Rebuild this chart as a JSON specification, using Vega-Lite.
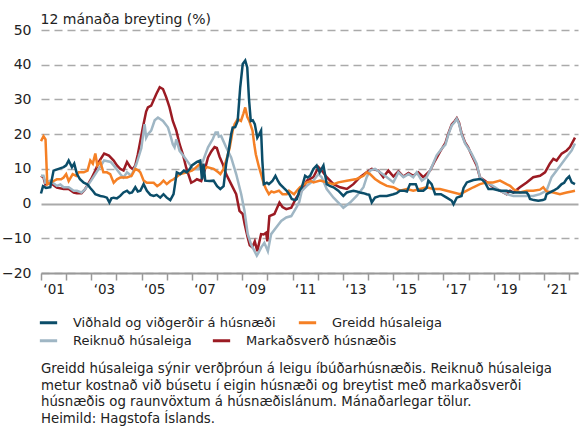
{
  "$schema": "https://vega.github.io/schema/vega-lite/v6.json",
  "autosize": {"type": "none"},
  "width": 537,
  "height": 243,
  "padding": {"left": 41, "top": 30, "right": 2, "bottom": 170},
  "background": "white",
  "config": {
    "font": "DejaVu Sans",
    "view": {"stroke": null},
    "axis": {"labelFont": "DejaVu Sans", "titleFont": "DejaVu Sans", "labelColor": "#222", "titleColor": "#222"},
    "legend": {"labelFont": "DejaVu Sans"},
    "title": {"font": "DejaVu Sans"}
  },
  "title": {
    "text": ["Greidd húsaleiga sýnir verðþróun á leigu íbúðarhúsnæðis. Reiknuð húsaleiga", "metur kostnað við búsetu í eigin húsnæði og breytist með markaðsverði", "húsnæðis og raunvöxtum á húsnæðislánum. Mánaðarlegar tölur.", "Heimild: Hagstofa Íslands."],
    "orient": "bottom",
    "anchor": "start",
    "frame": "group",
    "fontSize": 13.3,
    "fontWeight": "normal",
    "lineHeight": 16.7,
    "color": "#222",
    "offset": 14
  },
  "datasets": {
    "A": [
      {"t":2001.00,"v":2.9},{"t":2001.08,"v":5.0},{"t":2001.20,"v":4.5},{"t":2001.37,"v":4.7},{"t":2001.50,"v":9.5},{"t":2001.70,"v":10.0},{"t":2001.90,"v":10.5},{"t":2002.00,"v":11.0},{"t":2002.10,"v":12.4},{"t":2002.23,"v":10.5},{"t":2002.32,"v":11.5},{"t":2002.43,"v":8.5},{"t":2002.55,"v":7.0},{"t":2002.70,"v":6.0},{"t":2002.85,"v":5.5},{"t":2002.96,"v":4.5},{"t":2003.08,"v":3.5},{"t":2003.16,"v":2.7},{"t":2003.36,"v":2.2},{"t":2003.50,"v":2.0},{"t":2003.62,"v":1.7},{"t":2003.72,"v":0.3},{"t":2003.80,"v":1.5},{"t":2003.89,"v":1.7},{"t":2004.02,"v":1.5},{"t":2004.15,"v":2.2},{"t":2004.28,"v":3.2},{"t":2004.42,"v":3.7},{"t":2004.52,"v":3.0},{"t":2004.62,"v":3.2},{"t":2004.75,"v":4.7},{"t":2004.85,"v":3.5},{"t":2004.95,"v":3.7},{"t":2005.08,"v":5.6},{"t":2005.21,"v":3.7},{"t":2005.35,"v":2.5},{"t":2005.48,"v":2.2},{"t":2005.60,"v":2.5},{"t":2005.74,"v":1.7},{"t":2005.87,"v":2.7},{"t":2006.00,"v":1.7},{"t":2006.14,"v":1.0},{"t":2006.27,"v":2.7},{"t":2006.40,"v":9.0},{"t":2006.54,"v":8.5},{"t":2006.68,"v":9.5},{"t":2006.80,"v":9.0},{"t":2006.92,"v":10.0},{"t":2007.00,"v":11.0},{"t":2007.20,"v":12.0},{"t":2007.33,"v":12.4},{"t":2007.40,"v":7.0},{"t":2007.46,"v":11.5},{"t":2007.53,"v":6.6},{"t":2007.70,"v":6.5},{"t":2007.86,"v":6.6},{"t":2008.00,"v":5.0},{"t":2008.13,"v":4.2},{"t":2008.26,"v":5.0},{"t":2008.36,"v":11.3},{"t":2008.46,"v":15.3},{"t":2008.56,"v":20.0},{"t":2008.62,"v":21.9},{"t":2008.72,"v":22.0},{"t":2008.82,"v":23.8},{"t":2008.92,"v":33.5},{"t":2009.02,"v":40.2},{"t":2009.12,"v":41.2},{"t":2009.20,"v":39.2},{"t":2009.27,"v":30.0},{"t":2009.34,"v":23.8},{"t":2009.42,"v":24.0},{"t":2009.50,"v":22.9},{"t":2009.60,"v":19.0},{"t":2009.68,"v":20.0},{"t":2009.75,"v":21.0},{"t":2009.80,"v":12.3},{"t":2009.86,"v":5.6},{"t":2009.98,"v":6.0},{"t":2010.06,"v":5.6},{"t":2010.20,"v":6.5},{"t":2010.32,"v":8.0},{"t":2010.42,"v":6.5},{"t":2010.50,"v":5.6},{"t":2010.65,"v":4.5},{"t":2010.77,"v":3.7},{"t":2010.87,"v":2.7},{"t":2010.97,"v":1.3},{"t":2011.10,"v":1.0},{"t":2011.17,"v":1.3},{"t":2011.27,"v":3.7},{"t":2011.37,"v":4.7},{"t":2011.50,"v":8.0},{"t":2011.60,"v":7.5},{"t":2011.70,"v":8.0},{"t":2011.83,"v":10.0},{"t":2011.96,"v":11.0},{"t":2012.08,"v":9.0},{"t":2012.23,"v":11.0},{"t":2012.36,"v":5.6},{"t":2012.50,"v":5.0},{"t":2012.63,"v":4.7},{"t":2012.82,"v":3.7},{"t":2013.02,"v":2.2},{"t":2013.16,"v":3.2},{"t":2013.30,"v":3.5},{"t":2013.42,"v":3.7},{"t":2013.55,"v":3.5},{"t":2013.68,"v":3.2},{"t":2013.82,"v":3.0},{"t":2013.95,"v":2.7},{"t":2014.05,"v":2.5},{"t":2014.15,"v":0.3},{"t":2014.28,"v":1.7},{"t":2014.48,"v":2.2},{"t":2014.75,"v":2.2},{"t":2015.01,"v":2.7},{"t":2015.14,"v":3.0},{"t":2015.27,"v":3.7},{"t":2015.45,"v":3.7},{"t":2015.55,"v":3.5},{"t":2015.67,"v":5.6},{"t":2015.90,"v":5.6},{"t":2016.00,"v":3.7},{"t":2016.20,"v":3.7},{"t":2016.33,"v":4.5},{"t":2016.40,"v":6.6},{"t":2016.53,"v":5.6},{"t":2016.67,"v":2.7},{"t":2016.90,"v":2.7},{"t":2017.13,"v":1.7},{"t":2017.33,"v":0.8},{"t":2017.40,"v":-0.2},{"t":2017.53,"v":1.7},{"t":2017.72,"v":2.2},{"t":2017.80,"v":4.5},{"t":2017.93,"v":6.1},{"t":2018.19,"v":6.8},{"t":2018.45,"v":7.1},{"t":2018.55,"v":6.8},{"t":2018.65,"v":6.1},{"t":2018.79,"v":4.2},{"t":2018.98,"v":4.2},{"t":2019.25,"v":3.7},{"t":2019.51,"v":3.7},{"t":2019.78,"v":3.2},{"t":2020.04,"v":3.2},{"t":2020.31,"v":3.2},{"t":2020.38,"v":2.5},{"t":2020.44,"v":1.3},{"t":2020.60,"v":1.0},{"t":2020.77,"v":0.8},{"t":2020.95,"v":1.0},{"t":2021.04,"v":1.3},{"t":2021.10,"v":2.7},{"t":2021.37,"v":3.7},{"t":2021.55,"v":4.5},{"t":2021.70,"v":5.6},{"t":2021.80,"v":6.0},{"t":2021.90,"v":7.1},{"t":2022.00,"v":7.8},{"t":2022.10,"v":6.1},{"t":2022.23,"v":5.6}
    ],
    "B": [
      {"t":2001.00,"v":18.0},{"t":2001.10,"v":19.4},{"t":2001.18,"v":18.5},{"t":2001.25,"v":5.5},{"t":2001.37,"v":6.0},{"t":2001.50,"v":6.5},{"t":2001.63,"v":7.0},{"t":2001.80,"v":7.0},{"t":2001.90,"v":7.5},{"t":2002.00,"v":8.5},{"t":2002.10,"v":6.5},{"t":2002.26,"v":8.5},{"t":2002.40,"v":8.0},{"t":2002.50,"v":9.0},{"t":2002.70,"v":9.0},{"t":2002.85,"v":9.5},{"t":2002.96,"v":12.4},{"t":2003.06,"v":11.5},{"t":2003.16,"v":14.4},{"t":2003.24,"v":11.0},{"t":2003.36,"v":12.0},{"t":2003.48,"v":9.0},{"t":2003.62,"v":9.0},{"t":2003.75,"v":8.5},{"t":2003.89,"v":6.0},{"t":2004.02,"v":7.0},{"t":2004.15,"v":7.5},{"t":2004.30,"v":7.5},{"t":2004.42,"v":7.5},{"t":2004.60,"v":8.0},{"t":2004.75,"v":10.0},{"t":2004.88,"v":9.5},{"t":2004.95,"v":9.0},{"t":2005.08,"v":6.6},{"t":2005.21,"v":6.0},{"t":2005.48,"v":6.0},{"t":2005.62,"v":5.0},{"t":2005.74,"v":5.6},{"t":2005.87,"v":6.6},{"t":2006.00,"v":5.6},{"t":2006.14,"v":6.5},{"t":2006.27,"v":7.0},{"t":2006.54,"v":8.5},{"t":2006.80,"v":9.0},{"t":2007.00,"v":9.5},{"t":2007.10,"v":10.0},{"t":2007.33,"v":11.5},{"t":2007.50,"v":10.0},{"t":2007.60,"v":10.5},{"t":2007.86,"v":10.0},{"t":2008.05,"v":9.0},{"t":2008.13,"v":8.5},{"t":2008.26,"v":10.0},{"t":2008.40,"v":13.4},{"t":2008.50,"v":16.0},{"t":2008.62,"v":21.0},{"t":2008.70,"v":22.9},{"t":2008.82,"v":24.3},{"t":2008.95,"v":23.8},{"t":2009.05,"v":26.0},{"t":2009.12,"v":27.7},{"t":2009.20,"v":25.0},{"t":2009.28,"v":23.8},{"t":2009.41,"v":21.0},{"t":2009.48,"v":17.0},{"t":2009.54,"v":14.2},{"t":2009.67,"v":10.4},{"t":2009.77,"v":8.0},{"t":2009.86,"v":5.6},{"t":2009.96,"v":4.0},{"t":2010.06,"v":2.7},{"t":2010.16,"v":3.5},{"t":2010.26,"v":3.2},{"t":2010.46,"v":3.7},{"t":2010.60,"v":2.7},{"t":2010.77,"v":2.7},{"t":2010.86,"v":3.7},{"t":2011.06,"v":2.7},{"t":2011.17,"v":3.7},{"t":2011.30,"v":4.7},{"t":2011.45,"v":5.5},{"t":2011.57,"v":6.1},{"t":2011.73,"v":6.5},{"t":2011.83,"v":6.1},{"t":2012.10,"v":6.6},{"t":2012.36,"v":6.1},{"t":2012.63,"v":5.6},{"t":2012.82,"v":6.1},{"t":2013.16,"v":6.6},{"t":2013.55,"v":7.1},{"t":2013.82,"v":8.0},{"t":2013.95,"v":9.0},{"t":2014.08,"v":8.5},{"t":2014.28,"v":7.1},{"t":2014.48,"v":6.1},{"t":2014.75,"v":5.1},{"t":2015.01,"v":4.7},{"t":2015.27,"v":3.7},{"t":2015.54,"v":4.2},{"t":2015.80,"v":3.7},{"t":2016.07,"v":4.2},{"t":2016.33,"v":4.7},{"t":2016.60,"v":4.2},{"t":2016.86,"v":4.2},{"t":2017.13,"v":3.7},{"t":2017.40,"v":3.2},{"t":2017.66,"v":2.7},{"t":2017.93,"v":3.7},{"t":2018.19,"v":4.7},{"t":2018.45,"v":5.6},{"t":2018.72,"v":6.1},{"t":2018.98,"v":6.1},{"t":2019.25,"v":6.6},{"t":2019.51,"v":5.6},{"t":2019.65,"v":5.1},{"t":2019.78,"v":4.2},{"t":2020.04,"v":3.2},{"t":2020.31,"v":3.7},{"t":2020.57,"v":3.7},{"t":2020.84,"v":4.0},{"t":2020.97,"v":4.7},{"t":2021.10,"v":3.5},{"t":2021.37,"v":3.2},{"t":2021.63,"v":2.7},{"t":2021.90,"v":3.2},{"t":2022.10,"v":3.5},{"t":2022.23,"v":3.7}
    ],
    "C": [
      {"t":2001.00,"v":8.0},{"t":2001.10,"v":8.0},{"t":2001.17,"v":6.0},{"t":2001.37,"v":6.6},{"t":2001.63,"v":5.1},{"t":2001.77,"v":5.5},{"t":2001.90,"v":4.7},{"t":2002.10,"v":4.7},{"t":2002.30,"v":3.7},{"t":2002.43,"v":3.7},{"t":2002.61,"v":3.2},{"t":2002.74,"v":4.0},{"t":2002.99,"v":6.6},{"t":2003.16,"v":8.5},{"t":2003.25,"v":9.5},{"t":2003.51,"v":12.4},{"t":2003.77,"v":12.0},{"t":2003.89,"v":11.0},{"t":2004.15,"v":8.5},{"t":2004.28,"v":7.5},{"t":2004.42,"v":9.0},{"t":2004.59,"v":8.0},{"t":2004.79,"v":11.3},{"t":2004.99,"v":16.0},{"t":2005.12,"v":22.9},{"t":2005.18,"v":19.0},{"t":2005.25,"v":20.0},{"t":2005.38,"v":21.0},{"t":2005.52,"v":24.0},{"t":2005.65,"v":24.8},{"t":2005.85,"v":23.8},{"t":2006.05,"v":21.9},{"t":2006.17,"v":19.0},{"t":2006.24,"v":17.1},{"t":2006.31,"v":16.2},{"t":2006.38,"v":18.5},{"t":2006.51,"v":15.2},{"t":2006.71,"v":13.3},{"t":2006.91,"v":11.3},{"t":2007.04,"v":9.9},{"t":2007.24,"v":9.9},{"t":2007.44,"v":12.3},{"t":2007.64,"v":16.2},{"t":2007.83,"v":18.6},{"t":2007.94,"v":20.5},{"t":2008.03,"v":20.5},{"t":2008.07,"v":19.3},{"t":2008.16,"v":19.5},{"t":2008.36,"v":16.2},{"t":2008.56,"v":13.3},{"t":2008.76,"v":8.5},{"t":2008.96,"v":2.7},{"t":2009.09,"v":-2.1},{"t":2009.22,"v":-8.8},{"t":2009.35,"v":-11.7},{"t":2009.49,"v":-13.7},{"t":2009.58,"v":-15.0},{"t":2009.66,"v":-14.0},{"t":2009.75,"v":-12.7},{"t":2009.88,"v":-11.3},{"t":2010.02,"v":-13.7},{"t":2010.15,"v":-8.8},{"t":2010.35,"v":-6.9},{"t":2010.55,"v":-5.0},{"t":2010.75,"v":-4.0},{"t":2010.95,"v":-3.6},{"t":2011.15,"v":-1.2},{"t":2011.27,"v":0.5},{"t":2011.37,"v":3.7},{"t":2011.57,"v":5.1},{"t":2011.83,"v":6.6},{"t":2012.03,"v":8.5},{"t":2012.16,"v":7.6},{"t":2012.36,"v":4.2},{"t":2012.63,"v":1.7},{"t":2012.89,"v":-0.2},{"t":2013.02,"v":-1.2},{"t":2013.29,"v":0.3},{"t":2013.55,"v":2.2},{"t":2013.82,"v":4.7},{"t":2013.95,"v":7.6},{"t":2014.08,"v":9.5},{"t":2014.28,"v":10.0},{"t":2014.48,"v":9.0},{"t":2014.75,"v":7.6},{"t":2015.01,"v":6.1},{"t":2015.21,"v":9.0},{"t":2015.41,"v":7.6},{"t":2015.61,"v":8.5},{"t":2015.80,"v":7.6},{"t":2015.94,"v":9.0},{"t":2016.14,"v":6.6},{"t":2016.33,"v":7.6},{"t":2016.53,"v":10.5},{"t":2016.73,"v":13.9},{"t":2016.93,"v":15.8},{"t":2017.08,"v":17.0},{"t":2017.20,"v":20.0},{"t":2017.33,"v":22.5},{"t":2017.45,"v":23.5},{"t":2017.53,"v":24.4},{"t":2017.62,"v":23.0},{"t":2017.72,"v":20.0},{"t":2017.86,"v":17.3},{"t":2017.98,"v":16.0},{"t":2018.12,"v":14.4},{"t":2018.32,"v":11.5},{"t":2018.45,"v":7.6},{"t":2018.65,"v":6.1},{"t":2018.85,"v":5.6},{"t":2019.05,"v":4.7},{"t":2019.25,"v":3.7},{"t":2019.51,"v":2.7},{"t":2019.78,"v":2.2},{"t":2020.04,"v":2.2},{"t":2020.31,"v":2.2},{"t":2020.57,"v":2.2},{"t":2020.84,"v":2.7},{"t":2021.10,"v":3.7},{"t":2021.30,"v":7.6},{"t":2021.50,"v":9.5},{"t":2021.70,"v":11.5},{"t":2021.90,"v":13.4},{"t":2022.10,"v":15.3},{"t":2022.23,"v":17.3}
    ],
    "D": [
      {"t":2001.00,"v":8.0},{"t":2001.10,"v":7.5},{"t":2001.17,"v":5.5},{"t":2001.37,"v":6.0},{"t":2001.63,"v":4.6},{"t":2001.90,"v":4.2},{"t":2002.10,"v":4.2},{"t":2002.30,"v":3.2},{"t":2002.43,"v":3.0},{"t":2002.61,"v":3.0},{"t":2002.74,"v":4.0},{"t":2002.99,"v":7.0},{"t":2003.16,"v":9.5},{"t":2003.30,"v":12.0},{"t":2003.51,"v":14.4},{"t":2003.70,"v":13.8},{"t":2003.89,"v":12.4},{"t":2004.02,"v":11.0},{"t":2004.15,"v":10.0},{"t":2004.28,"v":9.5},{"t":2004.42,"v":12.0},{"t":2004.55,"v":10.5},{"t":2004.65,"v":9.9},{"t":2004.75,"v":11.0},{"t":2004.85,"v":14.2},{"t":2005.05,"v":21.9},{"t":2005.18,"v":26.5},{"t":2005.25,"v":27.7},{"t":2005.38,"v":28.2},{"t":2005.58,"v":31.5},{"t":2005.72,"v":33.5},{"t":2005.85,"v":33.0},{"t":2005.98,"v":30.6},{"t":2006.11,"v":27.7},{"t":2006.24,"v":23.8},{"t":2006.38,"v":21.0},{"t":2006.51,"v":17.1},{"t":2006.64,"v":14.2},{"t":2006.77,"v":10.4},{"t":2006.97,"v":6.0},{"t":2007.10,"v":6.5},{"t":2007.20,"v":7.0},{"t":2007.37,"v":6.5},{"t":2007.50,"v":9.4},{"t":2007.64,"v":13.3},{"t":2007.77,"v":15.0},{"t":2007.90,"v":16.3},{"t":2007.99,"v":16.0},{"t":2008.10,"v":13.5},{"t":2008.23,"v":11.3},{"t":2008.36,"v":8.5},{"t":2008.56,"v":5.6},{"t":2008.76,"v":2.7},{"t":2008.89,"v":-2.1},{"t":2009.02,"v":-3.0},{"t":2009.10,"v":-6.0},{"t":2009.22,"v":-9.8},{"t":2009.30,"v":-12.0},{"t":2009.40,"v":-12.6},{"t":2009.50,"v":-10.9},{"t":2009.60,"v":-13.7},{"t":2009.75,"v":-8.8},{"t":2009.85,"v":-8.9},{"t":2009.95,"v":-8.4},{"t":2010.00,"v":-10.9},{"t":2010.08,"v":-3.6},{"t":2010.28,"v":-3.0},{"t":2010.48,"v":0.3},{"t":2010.60,"v":-1.0},{"t":2010.75,"v":-1.6},{"t":2010.95,"v":-1.2},{"t":2011.15,"v":1.7},{"t":2011.37,"v":3.7},{"t":2011.57,"v":6.6},{"t":2011.83,"v":7.6},{"t":2012.03,"v":10.5},{"t":2012.16,"v":9.5},{"t":2012.36,"v":7.6},{"t":2012.63,"v":5.6},{"t":2012.89,"v":4.7},{"t":2013.16,"v":4.2},{"t":2013.42,"v":5.6},{"t":2013.68,"v":7.6},{"t":2013.95,"v":9.0},{"t":2014.15,"v":10.0},{"t":2014.41,"v":9.5},{"t":2014.61,"v":7.6},{"t":2014.81,"v":9.5},{"t":2015.01,"v":7.8},{"t":2015.21,"v":9.3},{"t":2015.41,"v":7.8},{"t":2015.61,"v":8.8},{"t":2015.80,"v":8.0},{"t":2016.00,"v":9.0},{"t":2016.20,"v":7.6},{"t":2016.47,"v":9.5},{"t":2016.67,"v":12.4},{"t":2016.86,"v":14.9},{"t":2017.08,"v":17.5},{"t":2017.20,"v":20.3},{"t":2017.33,"v":22.8},{"t":2017.45,"v":23.8},{"t":2017.53,"v":24.6},{"t":2017.62,"v":23.3},{"t":2017.72,"v":20.3},{"t":2017.86,"v":17.6},{"t":2017.98,"v":16.3},{"t":2018.12,"v":14.0},{"t":2018.32,"v":11.0},{"t":2018.45,"v":7.6},{"t":2018.65,"v":6.6},{"t":2018.98,"v":4.7},{"t":2019.25,"v":3.7},{"t":2019.51,"v":2.7},{"t":2019.65,"v":3.7},{"t":2019.78,"v":3.2},{"t":2020.04,"v":4.7},{"t":2020.31,"v":6.1},{"t":2020.57,"v":7.6},{"t":2020.84,"v":8.0},{"t":2021.04,"v":9.0},{"t":2021.23,"v":11.5},{"t":2021.37,"v":12.9},{"t":2021.50,"v":12.4},{"t":2021.70,"v":14.4},{"t":2021.90,"v":15.3},{"t":2022.03,"v":16.3},{"t":2022.23,"v":19.0}
    ]
  },
  "encoding": {
    "x": {
      "field": "t", "type": "quantitative",
      "scale": {"domain": [2001, 2022.35], "nice": false, "zero": false},
      "axis": {
        "title": null,
        "values": [2001,2002,2003,2004,2005,2006,2007,2008,2009,2010,2011,2012,2013,2014,2015,2016,2017,2018,2019,2020,2021,2022],
        "labelExpr": "datum.value % 2 == 1 ? '‘' + slice(toString(datum.value), 2) : ''",
        "labelOffset": 12.6,
        "labelAlign": "center",
        "labelBaseline": "top",
        "labelPadding": 2,
        "labelFontSize": 13.5,
        "labelFlush": false,
        "labelOverlap": false,
        "tickSize": 7,
        "tickColor": "#999",
        "tickWidth": 1.5,
        "domainColor": "#999",
        "domainWidth": 2,
        "grid": false
      }
    },
    "y": {
      "field": "v", "type": "quantitative",
      "scale": {"domain": [-20, 50], "nice": false},
      "axis": {
        "title": "12 mánaða breyting (%)",
        "titleAngle": 0,
        "titleAlign": "left",
        "titleBaseline": "alphabetic",
        "titleX": -1,
        "titleY": -7,
        "titleFontSize": 14,
        "titleFontWeight": "normal",
        "values": [-20,-10,0,10,20,30,40,50],
        "labelFontSize": 14,
        "labelPadding": 10,
        "ticks": false,
        "tickSize": 0,
        "domain": false,
        "grid": true,
        "gridColor": "#aaa",
        "gridWidth": {"condition": {"test": "datum.value === 0", "value": 2}, "value": 1.3},
        "gridDash": {"condition": {"test": "datum.value === 0", "value": []}, "value": [8, 5]}
      }
    }
  },
  "layer": [
    {"data": {"name": "D"}, "mark": {"type": "line", "strokeWidth": 2.5}, "encoding": {"stroke": {"datum": "Markaðsverð húsnæðis"}}},
    {"data": {"name": "C"}, "mark": {"type": "line", "strokeWidth": 2.5}, "encoding": {"stroke": {
      "datum": "Reiknuð húsaleiga",
      "scale": {"domain": ["Reiknuð húsaleiga", "Markaðsverð húsnæðis"], "range": ["#9fb6c4", "#9b1b23"]},
      "legend": {
        "title": null,
        "orient": "none",
        "legendX": -3,
        "legendY": 300,
        "direction": "horizontal",
        "symbolType": "stroke",
        "symbolStrokeWidth": 3,
        "symbolSize": 300,
        "labelFontSize": 13,
        "labelColor": "#222",
        "labelOffset": 14,
        "labelLimit": 400,
        "columnPadding": 14
      }
    }}},
    {"data": {"name": "B"}, "mark": {"type": "line", "strokeWidth": 2.5}, "encoding": {"color": {"datum": "Greidd húsaleiga"}}},
    {"data": {"name": "A"}, "mark": {"type": "line", "strokeWidth": 2.5}, "encoding": {"color": {
      "datum": "Viðhald og viðgerðir á húsnæði",
      "scale": {"domain": ["Viðhald og viðgerðir á húsnæði", "Greidd húsaleiga"], "range": ["#0b4d69", "#f58025"]},
      "legend": {
        "title": null,
        "orient": "none",
        "legendX": -3,
        "legendY": 282,
        "direction": "horizontal",
        "symbolType": "stroke",
        "symbolStrokeWidth": 3,
        "symbolSize": 300,
        "labelFontSize": 13,
        "labelColor": "#222",
        "labelOffset": 14,
        "labelLimit": 400,
        "columnPadding": 16
      }
    }}}
  ]
}
